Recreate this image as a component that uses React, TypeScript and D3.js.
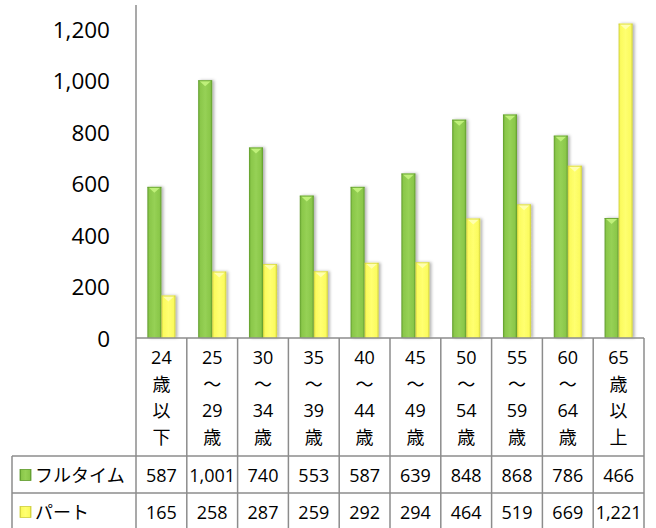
import React from "react";
import * as d3 from "d3";

const categories = ["24歳以下", "25～29歳", "30～34歳", "35～39歳", "40～44歳", "45～49歳", "50～54歳", "55～59歳", "60～64歳", "65歳以上"];
const categoryLines = [
  ["24", "歳", "以", "下"],
  ["25", "～", "29", "歳"],
  ["30", "～", "34", "歳"],
  ["35", "～", "39", "歳"],
  ["40", "～", "44", "歳"],
  ["45", "～", "49", "歳"],
  ["50", "～", "54", "歳"],
  ["55", "～", "59", "歳"],
  ["60", "～", "64", "歳"],
  ["65", "歳", "以", "上"],
];
const seriesNames = ["フルタイム", "パート"];
const fullTime = [587, 1001, 740, 553, 587, 639, 848, 868, 786, 466];
const partTime = [165, 258, 287, 259, 292, 294, 464, 519, 669, 1221];
const yTicks = [0, 200, 400, 600, 800, 1000, 1200];

const W = 656;
const H = 528;
const plotLeft = 136;
const plotRight = 644;
const plotBottom = 338;
const plotTopValueY = 29;
const axisTop = 5;
const tableLeft = 12;
const row1Top = 456;
const row2Top = 493;
const tableBottom = 528;

const FONT = "'Open Sans', 'Noto Sans CJK JP', sans-serif";
const gridColor = "#8c8c8c";

const palettes = [
  { id: "g", edge: "#5e9a2b", body: "#8ac74a", mid: "#96d155", top: "#bff07a" },
  { id: "y", edge: "#cfcf3a", body: "#fbfb5e", mid: "#ffff70", top: "#ffffb0" },
];

export default function App() {
  const x = d3.scaleBand<string>().domain(categories).range([plotLeft, plotRight]).paddingInner(0).paddingOuter(0);
  const x1 = d3.scaleBand<string>().domain(seriesNames).range([0, x.bandwidth()]).paddingInner(0).paddingOuter(0.81);
  const y = d3.scaleLinear().domain([0, 1200]).range([plotBottom, plotTopValueY]);
  const fmt = d3.format(",");
  const seriesValues = [fullTime, partTime];
  const bw = x1.bandwidth();

  const bar = (cat: string, si: number, v: number, key: string) => {
    const p = palettes[si];
    const x0 = (x(cat) as number) + (x1(seriesNames[si]) as number);
    const top = y(v);
    const h = plotBottom - top;
    return (
      <g key={key}>
        <rect x={x0} y={top} width={bw} height={h} fill={`url(#grad-${p.id})`} filter="url(#shadow)" />
        <polygon
          points={`${x0 + 1.5},${top + 1} ${x0 + bw - 1.5},${top + 1} ${x0 + bw / 2},${top + 6}`}
          fill={p.top}
        />
        <line x1={x0} x2={x0 + bw} y1={top + 0.5} y2={top + 0.5} stroke={p.edge} strokeWidth={1} opacity={0.6} />
      </g>
    );
  };

  return (
    <svg width={W} height={H} style={{ position: "absolute", left: 0, top: 0, background: "#fff" }} fontFamily={FONT}>
      <defs>
        {palettes.map((p) => (
          <linearGradient key={p.id} id={`grad-${p.id}`} x1="0" x2="1" y1="0" y2="0">
            <stop offset="0%" stopColor={p.edge} />
            <stop offset="14%" stopColor={p.body} />
            <stop offset="50%" stopColor={p.mid} />
            <stop offset="86%" stopColor={p.body} />
            <stop offset="100%" stopColor={p.edge} />
          </linearGradient>
        ))}
        <filter id="shadow" x="-50%" y="-10%" width="200%" height="120%">
          <feDropShadow dx="2" dy="0" stdDeviation="1.5" floodColor="#000" floodOpacity="0.3" />
        </filter>
        <filter id="lshadow" x="-5%" y="-200%" width="110%" height="500%">
          <feDropShadow dx="0" dy="1.5" stdDeviation="0.8" floodColor="#000" floodOpacity="0.25" />
        </filter>
      </defs>

      {/* gridlines */}
      {yTicks.filter((t) => t > 0).map((t) => (
        <line key={`g${t}`} x1={plotLeft} x2={plotRight} y1={y(t)} y2={y(t)} stroke={gridColor} strokeWidth={1.5} filter="url(#lshadow)" />
      ))}

      {/* y tick labels */}
      {yTicks.map((t) => (
        <text key={`t${t}`} x={110} y={y(t)} textAnchor="end" dominantBaseline="central" fontSize={22.5} fill="#000">
          {fmt(t)}
        </text>
      ))}

      {/* bars */}
      {categories.map((c, i) => seriesValues.map((vals, si) => bar(c, si, vals[i], `b${i}-${si}`)))}

      {/* axis line & table */}
      <line x1={plotLeft} x2={plotLeft} y1={axisTop} y2={tableBottom} stroke={gridColor} strokeWidth={1.5} />
      <line x1={plotLeft} x2={plotRight} y1={plotBottom} y2={plotBottom} stroke={gridColor} strokeWidth={1.5} />
      {categories.map((c, i) => (
        <line key={`v${i}`} x1={(x(c) as number) + x.bandwidth()} x2={(x(c) as number) + x.bandwidth()} y1={plotBottom} y2={tableBottom} stroke={gridColor} strokeWidth={1.5} />
      ))}
      <line x1={tableLeft} x2={tableLeft} y1={row1Top} y2={tableBottom} stroke={gridColor} strokeWidth={1.5} />
      <line x1={tableLeft} x2={plotRight} y1={row1Top} y2={row1Top} stroke={gridColor} strokeWidth={1.5} />
      <line x1={tableLeft} x2={plotRight} y1={row2Top} y2={row2Top} stroke={gridColor} strokeWidth={1.5} />

      {/* category header */}
      {categories.map((c, i) => {
        const cx = (x(c) as number) + x.bandwidth() / 2;
        return (
          <text key={`h${i}`} textAnchor="middle" fontSize={18} fill="#000">
            {categoryLines[i].map((ln, j) => (
              <tspan key={j} x={cx} y={357 + j * 26.7} dominantBaseline="central">
                {ln}
              </tspan>
            ))}
          </text>
        );
      })}

      {/* series rows */}
      {seriesNames.map((s, si) => {
        const cy = si === 0 ? 475 : 512;
        const p = palettes[si];
        return (
          <g key={`r${si}`}>
            <rect x={20} y={cy - 5.5} width={11} height={11} fill={`url(#grad-${p.id})`} stroke={p.edge} strokeWidth={0.8} />
            <text x={35} y={cy} dominantBaseline="central" fontSize={18} fill="#000">
              {s}
            </text>
            {categories.map((c, i) => (
              <text key={`v${i}`} x={(x(c) as number) + x.bandwidth() / 2} y={cy} textAnchor="middle" dominantBaseline="central" fontSize={18} fill="#000">
                {fmt(seriesValues[si][i])}
              </text>
            ))}
          </g>
        );
      })}
    </svg>
  );
}
